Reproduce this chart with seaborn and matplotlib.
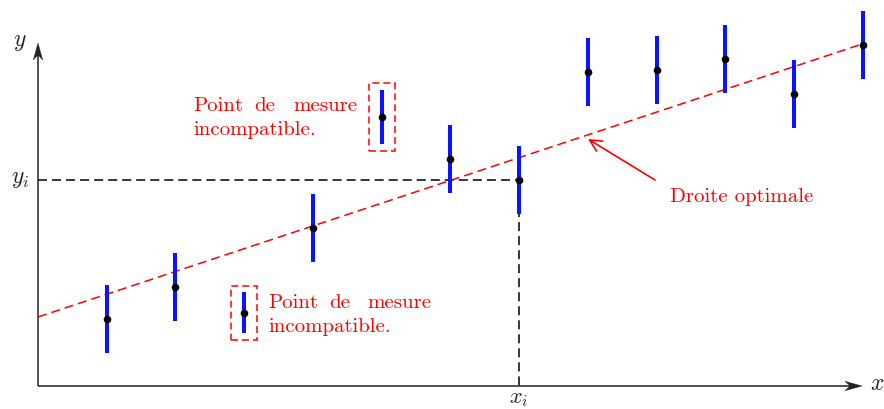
import matplotlib
matplotlib.use("Agg")
import matplotlib.pyplot as plt
import seaborn as sns
import numpy as np
from matplotlib.patches import Rectangle, Polygon

# ---- data ----
x_vals = [1, 2, 3, 4, 5, 6, 7, 8, 9, 10, 11, 12]
y_vals = [1.97, 2.91, 2.15, 4.65, 7.91, 6.68, 6.06, 9.24, 9.29, 9.62, 8.59, 10.03]
y_err = [1.0, 1.0, 0.6, 1.0, 0.8, 1.0, 1.0, 1.0, 1.0, 1.0, 1.0, 1.0]
fit_x = [0, 12]
fit_y = [2.03, 10.06]
incompatible_idx = [2, 4]
xi_idx = 6
label_text = ["Point", "de", "mesure"]
label_line2 = "incompatible."
fit_label = "Droite optimale"

sns.set_theme(style="white")
plt.rcParams["mathtext.fontset"] = "cm"
plt.rcParams["lines.scale_dashes"] = False
plt.rcParams["font.family"] = ["cmr10", "DejaVu Serif"]
plt.rcParams["axes.unicode_minus"] = False

W, H = 884, 409
fig = plt.figure(figsize=(W / 100, H / 100), dpi=100)
ax = fig.add_axes([0, 0, 1, 1])
ax.set_xlim(-0.553, 12.31)
ax.set_ylim(-0.676, 11.35)
ax.axis("off")

def P(px, py):
    """pixel (from top-left) -> data coords"""
    return ax.transData.inverted().transform((px, H - py))

RED = "#ff0000"
BLUE = "#0a14ff"
FS = 15
MFS = 17
AX_C = "#222222"

# axes lines
ax.plot(*zip(P(38, 386), P(852, 386)), color=AX_C, lw=1.1, solid_capstyle="butt", zorder=2)
ax.plot(*zip(P(38, 386), P(38, 53)), color=AX_C, lw=1.1, solid_capstyle="butt", zorder=2)
# stealth arrow heads
ax.add_patch(Polygon([P(862, 386), P(845, 381.3), P(850, 386), P(845, 390.7)], closed=True,
                     fc=AX_C, ec=AX_C, lw=0.3, zorder=2))
ax.add_patch(Polygon([P(38, 43), P(33.3, 60), P(38, 55), P(42.7, 60)], closed=True,
                     fc=AX_C, ec=AX_C, lw=0.3, zorder=2))

# fitted line
sns.lineplot(x=fit_x, y=fit_y, ax=ax, color=RED, lw=1.1, linestyle=(0, (6.5, 3.6)), zorder=3)

# x_i / y_i guides
xi, yi = x_vals[xi_idx], y_vals[xi_idx]
ax.plot([0, xi], [yi, yi], color="black", lw=1.1, linestyle=(0, (6.5, 3.6)), zorder=1)
ax.plot([xi, xi], [yi, 0], color="black", lw=1.1, linestyle=(0, (6.5, 3.6)), zorder=1)

# error bars
y_arr = np.array(y_vals)
e_arr = np.array(y_err)
ax.vlines(x_vals, y_arr - e_arr, y_arr + e_arr, color=BLUE, lw=2.9, zorder=4)
sns.scatterplot(x=x_vals, y=y_vals, ax=ax, color="black", s=30, linewidth=0, zorder=5)

# boxes around incompatible points
for i in incompatible_idx:
    bx, by, be = x_vals[i], y_vals[i], y_err[i]
    ax.add_patch(Rectangle((bx - 0.19, by - be - 0.19), 0.38, 2 * be + 0.38, fill=False,
                           ec=RED, lw=1.1, linestyle=(0, (5, 2.9)), zorder=3))

# axis labels
ax.text(*P(20, 42), r"$y$", fontsize=MFS, ha="center", va="center")
ax.text(*P(877, 384), r"$x$", fontsize=MFS, ha="center", va="center")
ax.text(*P(29, 179), r"$y_i$", fontsize=MFS, ha="right", va="center")
ax.text(xi, P(0, 389)[1], r"$x_i$", fontsize=16, ha="center", va="top")

# justified text blocks
def block(left, base):
    ax.text(*P(left, base), label_text[0], color=RED, fontsize=FS, ha="left", va="baseline")
    ax.text(*P(left + 72, base), label_text[1], color=RED, fontsize=FS, ha="center", va="baseline")
    ax.text(*P(left + 164, base), label_text[2], color=RED, fontsize=FS, ha="right", va="baseline")
    ax.text(*P(left, base + 24), label_line2, color=RED, fontsize=FS, ha="left", va="baseline")

block(193, 111)
block(268, 308)

# Droite optimale
ax.text(*P(670, 202), fit_label, color=RED, fontsize=FS, ha="left", va="baseline")
ax.annotate("", xy=P(588, 139), xytext=P(655, 180),
            arrowprops=dict(arrowstyle="->,head_length=0.6,head_width=0.3", color=RED, lw=1.2,
                            shrinkA=0, shrinkB=0, mutation_scale=14))

fig.savefig("out.png", dpi=100)
